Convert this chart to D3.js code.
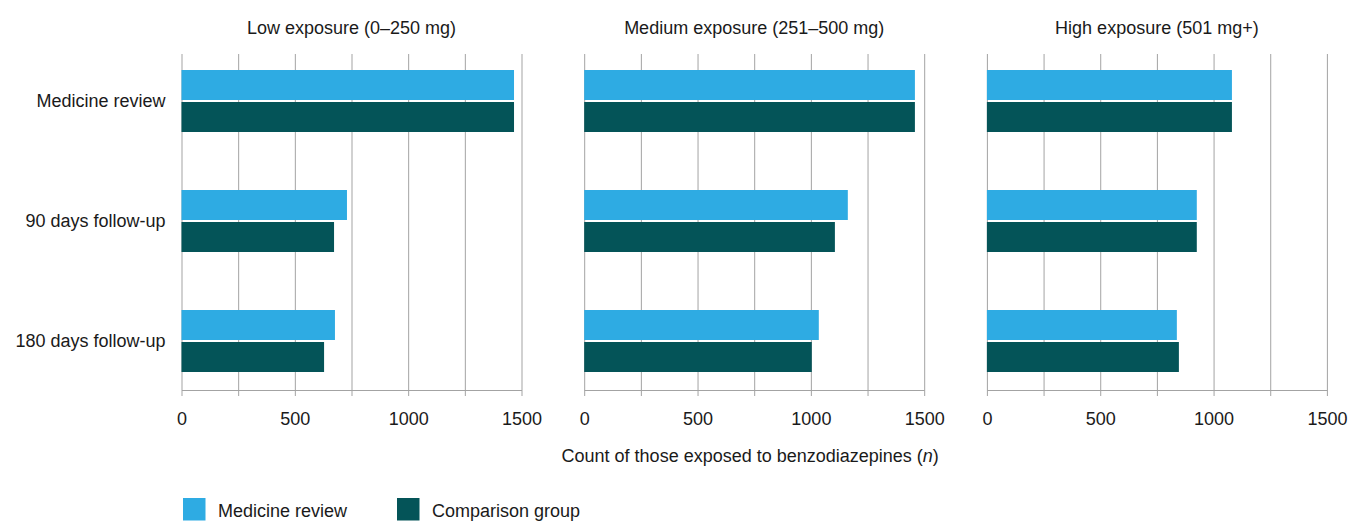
<!DOCTYPE html>
<html>
<head>
<meta charset="utf-8">
<script src="https://cdn.jsdelivr.net/npm/d3@7"></script>
<style>
  body { margin: 0; background: #fff; }
  svg text { font-family: "Liberation Sans", Arial, sans-serif; font-size: 18px; fill: #1a1a1a; }
  .grid line { stroke: #a3a3a3; stroke-width: 1; }
  .axis line, .axis path { stroke: #a3a3a3; }
</style>
</head>
<body>
<svg id="svg1" width="1349" height="521"></svg>
<script>
const svg1 = d3.select('#svg1');

const categories = ['Medicine review', '90 days follow-up', '180 days follow-up'];
const seriesNames = ['Medicine review', 'Comparison group'];
const panelTitles = ['Low exposure (0\u2013250 mg)', 'Medium exposure (251\u2013500 mg)', 'High exposure (501 mg+)'];

// values per panel, same order as categories
const lowReview = [1467, 730, 677];
const lowComparison = [1467, 673, 629];
const mediumReview = [1459, 1163, 1035];
const mediumComparison = [1459, 1106, 1004];
const highReview = [1081, 926, 838];
const highComparison = [1081, 926, 847];

const gridTicks = [0, 250, 500, 750, 1000, 1250, 1500];
const labelTicks = [0, 500, 1000, 1500];

const colours = ['#2eabe3', '#045458'];

const panels = [
  { title: panelTitles[0], review: lowReview, comparison: lowComparison },
  { title: panelTitles[1], review: mediumReview, comparison: mediumComparison },
  { title: panelTitles[2], review: highReview, comparison: highComparison }
];

const margin = { top: 54, left: 181.5 };
const panelWidth = 340;
const panelGap = 62.7;
const innerHeight = 336;

const panelX = i => margin.left + i * (panelWidth + panelGap);

const xScale = d3.scaleLinear().domain([0, 1500]).range([0, panelWidth]);

const yScale = d3.scaleBand()
  .domain(categories)
  .range([margin.top - 13, margin.top + 347]);

const ySub = d3.scaleBand()
  .domain(seriesNames)
  .range([yScale.bandwidth() / 2 - 31, yScale.bandwidth() / 2 + 31])
  .paddingInner(1 / 16);

const colourScale = d3.scaleOrdinal().domain(seriesNames).range(colours);

panels.forEach((p, i) => {
  const g = svg1.append('g')
    .attr('transform', `translate(${panelX(i)},0)`);

  // vertical gridlines, extended 6px below the axis as tick marks
  const gridG = g.append('g')
    .attr('class', 'grid')
    .attr('transform', `translate(0,${margin.top + innerHeight})`)
    .call(d3.axisBottom(xScale).tickValues(gridTicks).tickSize(-innerHeight));
  gridG.select('.domain').remove();
  gridG.selectAll('text').remove();
  gridG.selectAll('line').attr('y1', 6);

  // axis line with labels
  const xAxisG = g.append('g')
    .attr('class', 'axis')
    .attr('transform', `translate(0,${margin.top + innerHeight})`)
    .call(d3.axisBottom(xScale).tickValues(labelTicks).tickFormat(d3.format('d'))
      .tickSize(0).tickSizeOuter(0));
  xAxisG.selectAll('text').attr('y', 22).attr('dy', '0.71em');

  const rows = categories.map((c, k) => ({ category: c, values: [p.review[k], p.comparison[k]] }));

  const rowG = g.selectAll('.row').data(rows)
    .enter().append('g')
    .attr('class', 'row')
    .attr('transform', d => `translate(0,${yScale(d.category)})`);

  rowG.selectAll('rect')
    .data(d => d.values.map((v, s) => ({ series: seriesNames[s], value: v })))
    .enter().append('rect')
    .attr('x', xScale(0))
    .attr('y', d => ySub(d.series))
    .attr('width', d => xScale(d.value) - xScale(0))
    .attr('height', ySub.bandwidth())
    .attr('fill', d => colourScale(d.series));

  svg1.append('text')
    .attr('x', panelX(i) + panelWidth / 2)
    .attr('y', 34)
    .attr('text-anchor', 'middle')
    .text(p.title);
});

svg1.selectAll('.cat-label').data(categories)
  .enter().append('text')
  .attr('class', 'cat-label')
  .attr('x', margin.left - 16)
  .attr('y', d => yScale(d) + yScale.bandwidth() / 2)
  .attr('dy', '0.35em')
  .attr('text-anchor', 'end')
  .text(d => d);

// shared axis label
const xLabel = svg1.append('text')
  .attr('x', panelX(1) + panelWidth / 2 - 4)
  .attr('y', 462)
  .attr('text-anchor', 'middle');
xLabel.append('tspan').text('Count of those exposed to benzodiazepines (');
xLabel.append('tspan').attr('font-style', 'italic').text('n');
xLabel.append('tspan').text(')');

// legend
const legendX = [183, 397];
const legend = svg1.selectAll('.legend').data(seriesNames)
  .enter().append('g')
  .attr('class', 'legend')
  .attr('transform', (d, k) => `translate(${legendX[k]},498)`);
legend.append('rect')
  .attr('width', 22.5)
  .attr('height', 22.5)
  .attr('fill', d => colourScale(d));
legend.append('text')
  .attr('x', 35)
  .attr('y', 18.5)
  .text(d => d);
</script>
</body>
</html>
